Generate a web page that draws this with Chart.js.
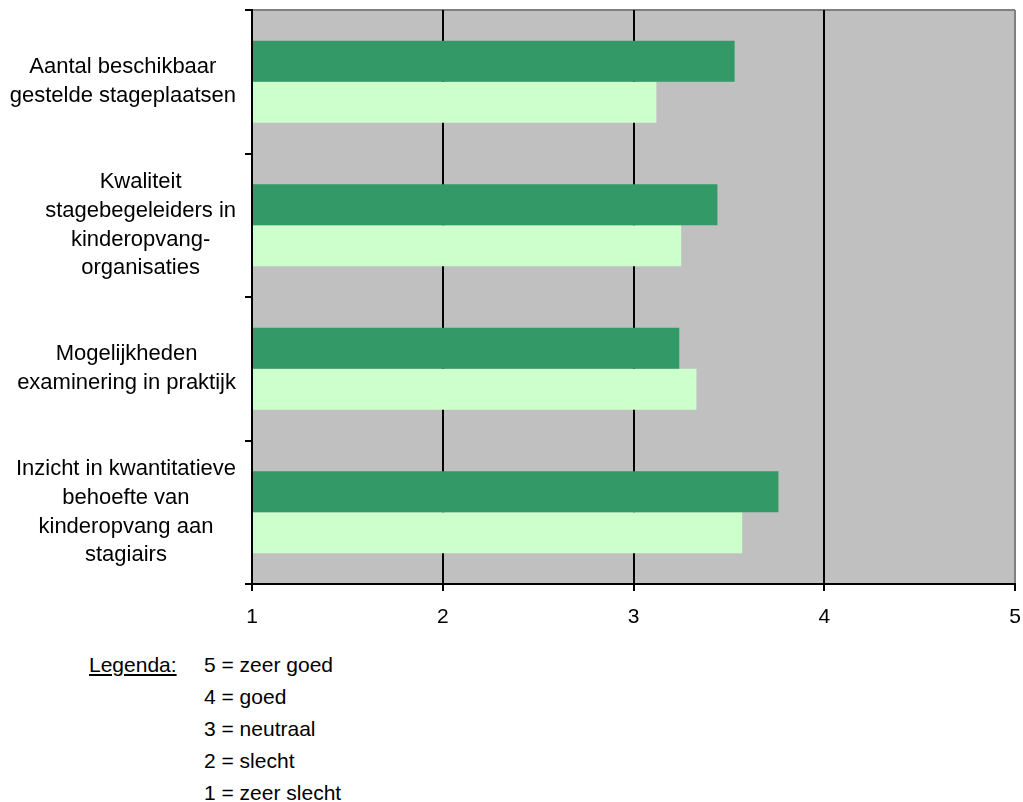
<!DOCTYPE html>
<html>
<head>
<meta charset="utf-8">
<script src="https://cdn.jsdelivr.net/npm/chart.js@4"></script>
<style>
  body { margin: 0; background: #fff; font-family: "Liberation Sans", Arial, sans-serif; }
  #wrap { position: relative; width: 1023px; height: 802px; }
  #box { position: absolute; left: 0; top: 0; width: 1023px; height: 640px; }
  .leg { position: absolute; font-size: 21px; color: #000; line-height: 24px; white-space: nowrap; }
  #legTitle { left: 89px; top: 653px; text-decoration: underline; }
  #legLines { left: 204px; top: 653px; }
  #legLines div { height: 32px; }
</style>
</head>
<body>
<div id="wrap">
  <div id="box"><canvas id="myChart"></canvas></div>
  <div class="leg" id="legTitle">Legenda:</div>
  <div class="leg" id="legLines"></div>
</div>
<script>
const categorieen = [
  ['Aantal beschikbaar', 'gestelde stageplaatsen'],
  ['Kwaliteit', 'stagebegeleiders in', 'kinderopvang-', 'organisaties'],
  ['Mogelijkheden', 'examinering in praktijk'],
  ['Inzicht in kwantitatieve', 'behoefte van', 'kinderopvang aan', 'stagiairs']
];
const reeks1 = [3.53, 3.44, 3.24, 3.76];
const reeks2 = [3.12, 3.25, 3.33, 3.57];
const schaalTicks = [1, 2, 3, 4, 5];
const legendaRegels = ['5 = zeer goed', '4 = goed', '3 = neutraal', '2 = slecht', '1 = zeer slecht'];

document.getElementById('legLines').innerHTML =
  legendaRegels.map(r => '<div>' + r + '</div>').join('');

const achtergrond = {
  id: 'achtergrond',
  beforeDraw(chart) {
    const a = chart.chartArea;
    const ctx = chart.ctx;
    ctx.save();
    ctx.fillStyle = '#C0C0C0';
    ctx.fillRect(a.left, a.top, a.right - a.left, a.bottom - a.top);
    ctx.strokeStyle = '#808080';
    ctx.lineWidth = 2;
    ctx.beginPath();
    ctx.moveTo(a.left, a.top);
    ctx.lineTo(a.right, a.top);
    ctx.stroke();
    ctx.restore();
  }
};

// categorie-labels: elk blok rechts uitgelijnd, regels binnen het blok gecentreerd
const catLabels = {
  id: 'catLabels',
  afterDraw(chart) {
    const s = chart.scales.y;
    const ctx = chart.ctx;
    ctx.save();
    ctx.font = '22px "Liberation Sans", Arial, sans-serif';
    ctx.fillStyle = '#000';
    ctx.textAlign = 'center';
    ctx.textBaseline = 'middle';
    categorieen.forEach((regels, i) => {
      const yc = s.getPixelForValue(i);
      const w = Math.max(...regels.map(r => ctx.measureText(r).width));
      const xc = s.right - 16 - w / 2;
      regels.forEach((r, j) => {
        ctx.fillText(r, xc, yc + (j - (regels.length - 1) / 2) * 28.7);
      });
    });
    ctx.restore();
  }
};

const ctx = document.getElementById('myChart').getContext('2d');
const myChart = new Chart(ctx, {
  type: 'bar',
  data: {
    labels: categorieen,
    datasets: [{
      label: 'Reeks 1',
      data: reeks1,
      backgroundColor: '#339966',
      base: 1
    }, {
      label: 'Reeks 2',
      data: reeks2,
      backgroundColor: '#CCFFCC',
      base: 1
    }]
  },
  options: {
    indexAxis: 'y',
    responsive: true,
    maintainAspectRatio: false,
    animation: false,
    datasets: { bar: { categoryPercentage: 0.57, barPercentage: 1, borderWidth: 0 } },
    layout: { padding: { top: 10, right: 8, left: 0, bottom: 0 } },
    plugins: { legend: { display: false }, tooltip: { enabled: false } },
    scales: {
      x: {
        min: 1,
        max: 5,
        afterBuildTicks: (s) => { s.ticks = schaalTicks.map(v => ({ value: v })); },
        afterFit: (s) => { s.height = 56; s.paddingLeft = 0; s.paddingRight = 0; },
        ticks: { color: '#000', font: { family: 'Liberation Sans', size: 21 }, padding: 14 },
        grid: {
          color: (c) => c.tick && c.tick.value === 5 ? '#808080' : '#000',
          lineWidth: 2,
          tickColor: '#000',
          tickLength: 7
        },
        border: { color: '#000', width: 2, z: 1 }
      },
      y: {
        afterFit: (s) => { s.width = 252; s.paddingTop = 0; s.paddingBottom = 0; },
        ticks: { display: false },
        grid: {
          offset: true,
          drawOnChartArea: false,
          color: '#000',
          lineWidth: 2,
          tickLength: 7
        },
        border: { color: '#000', width: 2, z: 1 }
      }
    }
  },
  plugins: [achtergrond, catLabels]
});
</script>
</body>
</html>
